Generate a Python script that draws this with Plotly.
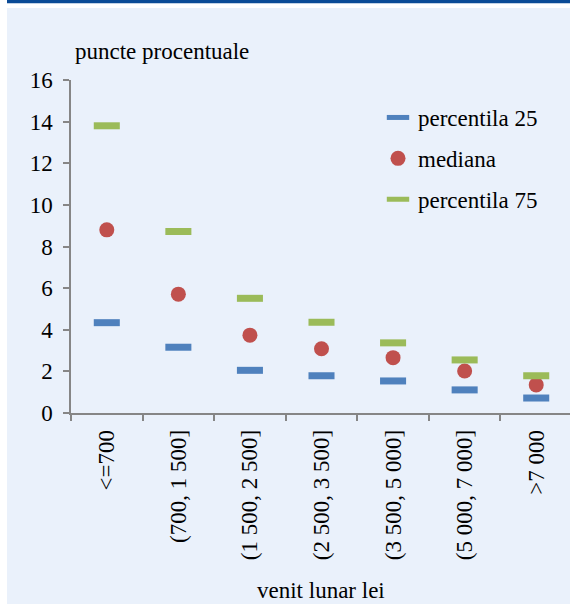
import plotly.graph_objects as go

categories = ["<=700", "(700, 1 500]", "(1 500, 2 500]", "(2 500, 3 500]",
              "(3 500, 5 000]", "(5 000, 7 000]", ">7 000"]
p25 = [4.34, 3.16, 2.05, 1.79, 1.54, 1.11, 0.72]
mediana = [8.8, 5.71, 3.74, 3.09, 2.66, 2.02, 1.35]
p75 = [13.8, 8.72, 5.51, 4.36, 3.37, 2.55, 1.79]

y_ticks = [0, 2, 4, 6, 8, 10, 12, 14, 16]

W, H = 570, 604
ML, MR, MT, MB = 71, 0, 80, 191
PW, PH = W - ML - MR, H - MT - MB

def px_x(p):
    return (p - ML) / PW

def px_y(p):
    return (H - MB - p) / PH

FONT = "Liberation Serif, serif"
BLUE = "#4F81BD"
RED = "#C0504D"
GREEN = "#9BBB59"
BG = "#EAF1FB"
AXIS = "#868686"

fig = go.Figure()
fig.add_trace(go.Scatter(
    x=categories, y=p25, mode="markers", name="percentila 25", legendgroup="a",
    marker=dict(symbol="line-ew", size=18.6, color=BLUE,
                line=dict(color=BLUE, width=7))))
fig.add_trace(go.Scatter(
    x=categories, y=mediana, mode="markers", name="mediana", legendgroup="b",
    marker=dict(symbol="circle", size=15, color=RED, line=dict(width=0))))
fig.add_trace(go.Scatter(
    x=categories, y=p75, mode="markers", name="percentila 75", legendgroup="c",
    marker=dict(symbol="line-ew", size=18.6, color=GREEN,
                line=dict(color=GREEN, width=7))))

fig.update_layout(
    width=W, height=H,
    margin=dict(l=ML, r=MR, t=MT, b=MB, pad=0),
    paper_bgcolor="white",
    plot_bgcolor="rgba(0,0,0,0)",
    font=dict(family=FONT, size=23, color="black"),
    showlegend=True,
    legend=dict(x=px_x(378), y=px_y(96), xanchor="left", yanchor="top",
                bgcolor="rgba(0,0,0,0)", borderwidth=0,
                font=dict(family=FONT, size=23, color="black"),
                tracegroupgap=8, itemsizing="trace"),
    xaxis=dict(type="category", categoryorder="array", categoryarray=categories,
               range=[-0.5, 6.472], showline=True, linecolor=AXIS, linewidth=1.5,
               ticks="outside", tickson="boundaries", ticklen=6, tickcolor=AXIS,
               tickwidth=1.5, tickangle=-90, showgrid=False, zeroline=False,
               tickfont=dict(family=FONT, size=23, color="black"),
               ticklabelstandoff=6),
    yaxis=dict(range=[0, 16], tickvals=y_ticks, showline=True, linecolor=AXIS,
               linewidth=1.5, ticks="outside", ticklen=6, tickcolor=AXIS,
               tickwidth=1.5, showgrid=False, zeroline=False,
               tickfont=dict(family=FONT, size=23, color="black"),
               ticklabelstandoff=6),
    shapes=[
        dict(type="rect", xref="paper", yref="paper", layer="below",
             x0=px_x(7), x1=px_x(W + 2), y0=px_y(H + 5), y1=px_y(8),
             fillcolor=BG, line=dict(width=0)),
        dict(type="rect", xref="paper", yref="paper", layer="below",
             x0=px_x(7), x1=px_x(W + 2), y0=px_y(3.3), y1=px_y(-2),
             fillcolor="#0A4A96", line=dict(width=0)),
    ],
    annotations=[
        dict(text="puncte procentuale", xref="paper", yref="paper",
             x=px_x(73), y=px_y(52), xanchor="left", yanchor="middle",
             showarrow=False, font=dict(family=FONT, size=23, color="black")),
        dict(text="venit lunar lei", xref="paper", yref="paper",
             x=px_x(321), y=px_y(604), xanchor="center", yanchor="bottom",
             borderpad=0, showarrow=False,
             font=dict(family=FONT, size=23, color="black")),
    ],
)

fig.write_html("out.html", config={"displayModeBar": False},
               post_script="document.body.style.margin='0';"
                           "document.body.style.overflow='hidden';")
